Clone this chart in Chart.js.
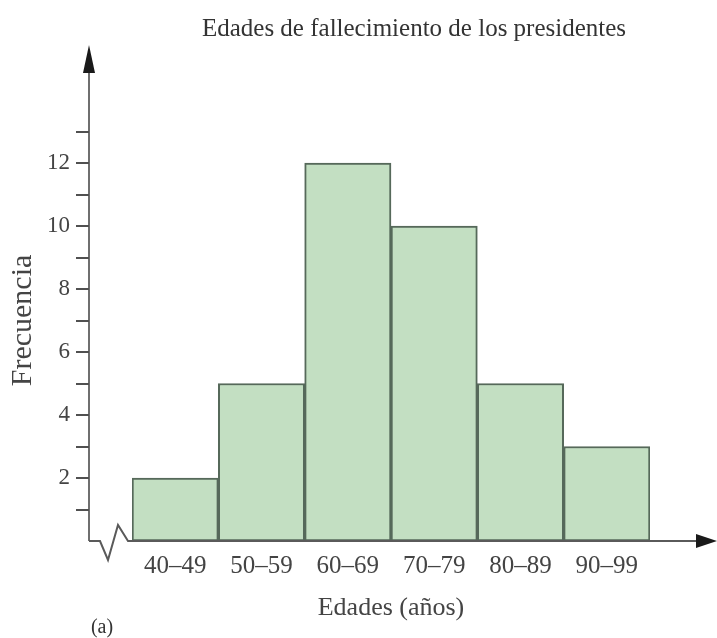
<!DOCTYPE html>
<html>
<head>
<meta charset="utf-8">
<script src="https://cdn.jsdelivr.net/npm/chart.js@4"></script>
<style>
  html, body { margin: 0; padding: 0; background: #fff; }
  #wrap { width: 717px; height: 638px; }
</style>
</head>
<body>
<div id="wrap"><canvas id="myChart" width="717" height="638"></canvas></div>
<script>
var labels = ["40\u201349", "50\u201359", "60\u201369", "70\u201379", "80\u201389", "90\u201399"];
var frecuencia = [2, 5, 12, 10, 5, 3];
var yTicks = [1, 2, 3, 4, 5, 6, 7, 8, 9, 10, 11, 12, 13];
var titulo = "Edades de fallecimiento de los presidentes";

var serif = "'Liberation Serif', 'DejaVu Serif', serif";

// ejes con flechas, marcas y el zigzag de corte
var axesPlugin = {
    id: 'axesPlugin',
    afterDatasetsDraw: function (chart) {
        var ctx = chart.ctx;
        var area = chart.chartArea;
        var y = chart.scales.y;
        var ax = area.left - 43;
        var base = y.getPixelForValue(0);
        ctx.save();
        ctx.strokeStyle = '#6f6f6f';
        ctx.lineWidth = 2;
        // eje y
        ctx.beginPath();
        ctx.moveTo(ax, base);
        ctx.lineTo(ax, 70);
        ctx.stroke();
        ctx.fillStyle = '#1a1a1a';
        ctx.beginPath();
        ctx.moveTo(ax, 45);
        ctx.lineTo(ax - 6, 73);
        ctx.lineTo(ax + 6, 73);
        ctx.closePath();
        ctx.fill();
        // marcas
        ctx.strokeStyle = '#505050';
        yTicks.forEach(function (v) {
            var py = Math.round(y.getPixelForValue(v));
            ctx.beginPath();
            ctx.moveTo(ax - 13, py);
            ctx.lineTo(ax, py);
            ctx.stroke();
        });
        // eje x con zigzag
        ctx.strokeStyle = '#5a5a5a';
        ctx.beginPath();
        ctx.moveTo(ax, base);
        ctx.lineTo(ax + 11, base);
        ctx.lineTo(ax + 19, base + 19);
        ctx.lineTo(ax + 29, base - 16);
        ctx.lineTo(ax + 39, base);
        ctx.lineTo(chart.width - 18, base);
        ctx.stroke();
        ctx.fillStyle = '#1a1a1a';
        ctx.beginPath();
        ctx.moveTo(chart.width, base);
        ctx.lineTo(chart.width - 21, base - 7);
        ctx.lineTo(chart.width - 21, base + 7);
        ctx.closePath();
        ctx.fill();
        // titulo y etiqueta (a)
        ctx.fillStyle = '#333';
        ctx.font = '25px ' + serif;
        ctx.textAlign = 'center';
        ctx.textBaseline = 'middle';
        ctx.fillText(titulo, 414, 29);
        ctx.font = '20px ' + serif;
        ctx.fillText('(a)', 102, 628);
        ctx.restore();
    }
};

var ctx = document.getElementById("myChart");
var myChart = new Chart(ctx, {
    type: 'bar',
    data: {
        labels: labels,
        datasets: [{
            label: 'Frecuencia',
            data: frecuencia,
            backgroundColor: '#c3dfc2',
            borderColor: '#56695a',
            borderWidth: 2,
            borderSkipped: false,
            categoryPercentage: 1.0,
            barPercentage: 1.0
        }]
    },
    options: {
        responsive: false,
        animation: false,
        layout: {
            padding: { left: 0, right: 67, top: 100, bottom: 0 }
        },
        plugins: {
            legend: { display: false },
            tooltip: { enabled: false }
        },
        scales: {
            x: {
                grid: { display: false, drawTicks: false },
                border: { display: false },
                ticks: {
                    color: '#444',
                    padding: 10,
                    font: { family: serif, size: 25 }
                },
                title: {
                    display: true,
                    text: 'Edades (años)',
                    color: '#444',
                    padding: { top: 6, bottom: 14 },
                    font: { family: serif, size: 26 }
                },
                afterFit: function (scale) { scale.height = 97; }
            },
            y: {
                min: 0,
                max: 14,
                grid: { display: false, drawTicks: false },
                border: { display: false },
                ticks: {
                    stepSize: 2,
                    color: '#444',
                    padding: 62,
                    font: { family: serif, size: 23 },
                    callback: function (v) { return (v > 0 && v < 14) ? v : ''; }
                },
                title: {
                    display: true,
                    text: 'Frecuencia',
                    color: '#444',
                    padding: { top: 5, bottom: 0 },
                    font: { family: serif, size: 30 }
                },
                afterFit: function (scale) { scale.width = 132; }
            }
        }
    },
    plugins: [axesPlugin]
});
</script>
</body>
</html>
